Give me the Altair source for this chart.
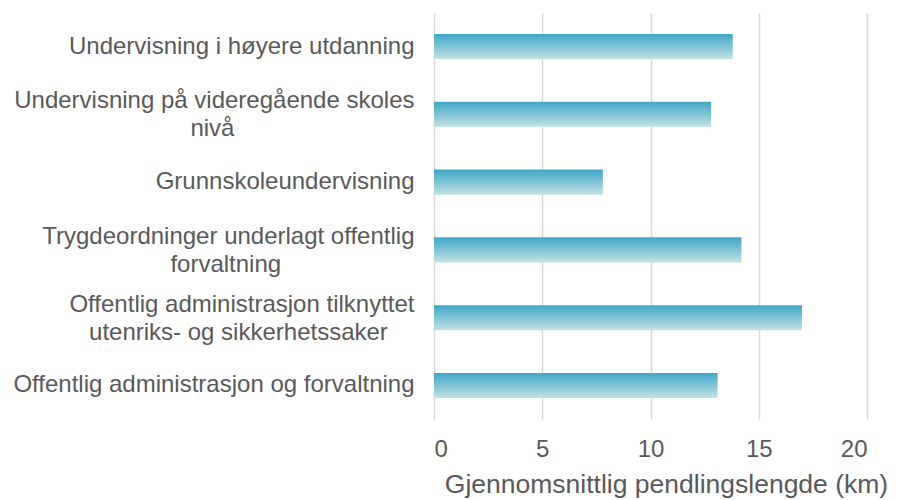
import altair as alt
import pandas as pd

# Categories (top to bottom) split into display lines
label_lines = [
    ["Undervisning i høyere utdanning"],
    ["Undervisning på videregående skoles", "nivå"],
    ["Grunnskoleundervisning"],
    ["Trygdeordninger underlagt offentlig", "forvaltning"],
    ["Offentlig administrasjon tilknyttet", "utenriks- og sikkerhetssaker"],
    ["Offentlig administrasjon og forvaltning"],
]
# trailing no-break spaces to centre the short second line under the first
second_line_pad = [0, 27, 0, 20, 4, 0]
values = [13.8, 12.8, 7.8, 14.2, 17.0, 13.1]
x_ticks = [0, 5, 10, 15, 20]

NBSP = "\u00a0"
ZWSP = "\u200b"
labels = []
for lines, pad in zip(label_lines, second_line_pad):
    if len(lines) > 1:
        lines = [lines[0], lines[1] + NBSP * pad + ZWSP]
    labels.append("|".join(lines))

df = pd.DataFrame({"label": labels, "value": values})

FONT = "Arial, Liberation Sans, sans-serif"
GREY = "#595959"

gradient = alt.Gradient(
    gradient="linear",
    stops=[
        alt.GradientStop(color="#3fa6c8", offset=0),
        alt.GradientStop(color="#c3e2e3", offset=1),
    ],
    x1=0, x2=0, y1=0, y2=1,
)

chart = (
    alt.Chart(df)
    .mark_bar(color=gradient)
    .encode(
        x=alt.X(
            "value:Q",
            scale=alt.Scale(domain=[0, 20], nice=False),
            axis=alt.Axis(
                values=x_ticks,
                title="Gjennomsnittlig pendlingslengde (km)",
                titleFont=FONT,
                titleFontSize=26.5,
                titleFontWeight="normal",
                titleColor=GREY,
                titleX=232,
                titleY=73,
                titleAlign="center",
                titleBaseline="alphabetic",
                labelFont=FONT,
                labelFontSize=24,
                labelColor=GREY,
                labelPadding=18,
                ticks=False,
                tickSize=0,
                domain=False,
                grid=True,
                gridColor="#d9d9d9",
                gridWidth=1.5,
            ),
        ),
        y=alt.Y(
            "label:N",
            sort=labels,
            scale=alt.Scale(paddingInner=0.63, paddingOuter=0.31),
            axis=alt.Axis(
                title=None,
                labelExpr="split(datum.label, '|')",
                labelFont=FONT,
                labelFontSize=24,
                labelColor=GREY,
                labelLineHeight=28,
                labelLimit=600,
                labelPadding=20,
                labelOffset={
                    "condition": {"test": "indexof(datum.value, '|') >= 0", "value": -13},
                    "value": 0,
                },
                ticks=False,
                tickSize=0,
                domain=False,
                grid=False,
            ),
        ),
    )
    .properties(
        width=433,
        height=406,
        autosize=alt.AutoSizeParams(type="none"),
        padding={"left": 426, "top": 5, "right": 23, "bottom": 80},
    )
    .configure_view(stroke=None)
)

chart.save("out.html", embed_options={"renderer": "svg", "actions": False})
